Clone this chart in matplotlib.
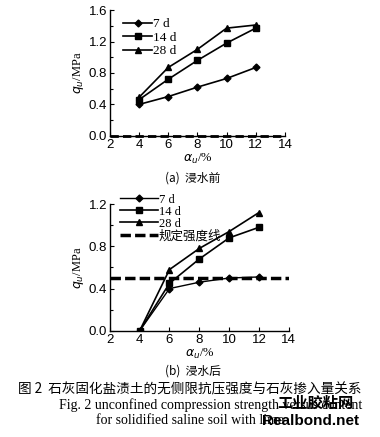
import matplotlib
matplotlib.use("Agg")
import matplotlib.pyplot as plt

# lime content (%)
x = [4, 6, 8, 10, 12]

# (a) before soaking
a_7d = [0.40, 0.50, 0.62, 0.73, 0.87]
a_14d = [0.46, 0.72, 0.96, 1.18, 1.37]
a_28d = [0.49, 0.87, 1.10, 1.37, 1.41]

# (b) after soaking
b_7d = [0.0, 0.40, 0.46, 0.50, 0.51]
b_14d = [0.0, 0.45, 0.68, 0.88, 0.98]
b_28d = [0.0, 0.58, 0.78, 0.94, 1.12]
spec_x = [2, 14]
spec_y = [0.5, 0.5]

labels = ["7 d", "14 d", "28 d"]
cjk = ["Noto Sans CJK SC", "DejaVu Sans"]
serif = ["Liberation Serif", "DejaVu Serif"]

plt.rcParams['font.family'] = ['Liberation Sans', 'DejaVu Sans']
plt.rcParams['font.size'] = 9

fig = plt.figure(figsize=(3.8, 4.37), dpi=100)

def style(ax, ymax, ystep):
    ax.spines['top'].set_visible(False)
    ax.spines['right'].set_visible(False)
    ax.spines['left'].set_linewidth(1.0)
    ax.spines['bottom'].set_linewidth(1.0)
    ax.set_xlim(2, 14)
    ax.set_ylim(0, ymax)
    ax.set_xticks([2, 4, 6, 8, 10, 12, 14])
    yt = [round(i * ystep, 1) for i in range(int(round(ymax / ystep)) + 1)]
    ax.set_yticks(yt)
    ax.set_yticklabels(["%.1f" % v for v in yt])
    ax.set_yticks([v + ystep / 2 for v in yt[:-1]], minor=True)
    ax.tick_params(direction='in', length=3, width=0.8, labelsize=9.5, pad=2)
    ax.tick_params(which='minor', direction='in', length=2, width=0.8)
    ax.set_ylabel(r"$q_u$/MPa", family=serif, fontsize=9, labelpad=2)
    ax.set_xlabel(r"$\alpha_u$/%", family=serif, fontsize=9, labelpad=1)

# ---- (a)
ax1 = fig.add_axes([0.289, 0.689, 0.461, 0.288])
ax1.plot(x, a_7d, color='black', lw=1.2, marker='D', ms=3.5, label=labels[0])
ax1.plot(x, a_14d, color='black', lw=1.2, marker='s', ms=4.5, label=labels[1])
ax1.plot(x, a_28d, color='black', lw=1.2, marker='^', ms=4.5, label=labels[2])
ax1.plot(spec_x, [0, 0], color='black', lw=2, ls=(0, (3, 1.5)), clip_on=False)
style(ax1, 1.6, 0.4)
ax1.legend(loc='upper left', frameon=False, prop={'family': serif, 'size': 9.5},
           handlelength=2.2, handletextpad=0.1, labelspacing=0.1,
           borderaxespad=0.2, bbox_to_anchor=(0.03, 1.0))
fig.text(0.508, 0.593, "(a)  浸水前", ha='center', va='center', fontsize=8.5, family=cjk)

# ---- (b)
ax2 = fig.add_axes([0.289, 0.243, 0.471, 0.290])
ax2.plot(x, b_7d, color='black', lw=1.0, marker='D', ms=3.5, label=labels[0])
ax2.plot(x, b_14d, color='black', lw=1.2, marker='s', ms=4.5, label=labels[1])
ax2.plot(x, b_28d, color='black', lw=1.2, marker='^', ms=4.5, label=labels[2])
ax2.plot(spec_x, spec_y, color='black', lw=2.5, ls=(0, (3, 1.2)), label="规定强度线")
style(ax2, 1.2, 0.4)
leg = ax2.legend(loc='upper left', frameon=False, prop={'family': serif + ['Noto Sans CJK SC'], 'size': 9},
                 handlelength=3.0, handletextpad=0.1, labelspacing=0.0,
                 borderaxespad=0.0, bbox_to_anchor=(0.03, 1.12))
for t in leg.get_texts():
    t.set_family(serif + ['Noto Sans CJK SC'])
fig.text(0.508, 0.152, "(b)  浸水后", ha='center', va='center', fontsize=8.5, family=cjk)

# caption
fig.text(0.5, 0.108, "图 2  石灰固化盐渍土的无侧限抗压强度与石灰掺入量关系",
         ha='center', va='center', fontsize=9.8, family=cjk)
fig.text(0.555, 0.073, "Fig. 2 unconfined compression strength versus content",
         ha='center', va='center', fontsize=10, family=serif)
fig.text(0.5, 0.038, "for solidified saline soil with lime",
         ha='center', va='center', fontsize=10, family=serif)

# watermark
fig.text(0.93, 0.078, "工业胶粘网", ha='right', va='center', fontsize=11,
         family=cjk, weight='bold')
fig.text(0.945, 0.036, "Realbond.net", ha='right', va='center', fontsize=11,
         family=['Liberation Sans', 'DejaVu Sans'], weight='bold')

fig.savefig("out.png", dpi=100)
